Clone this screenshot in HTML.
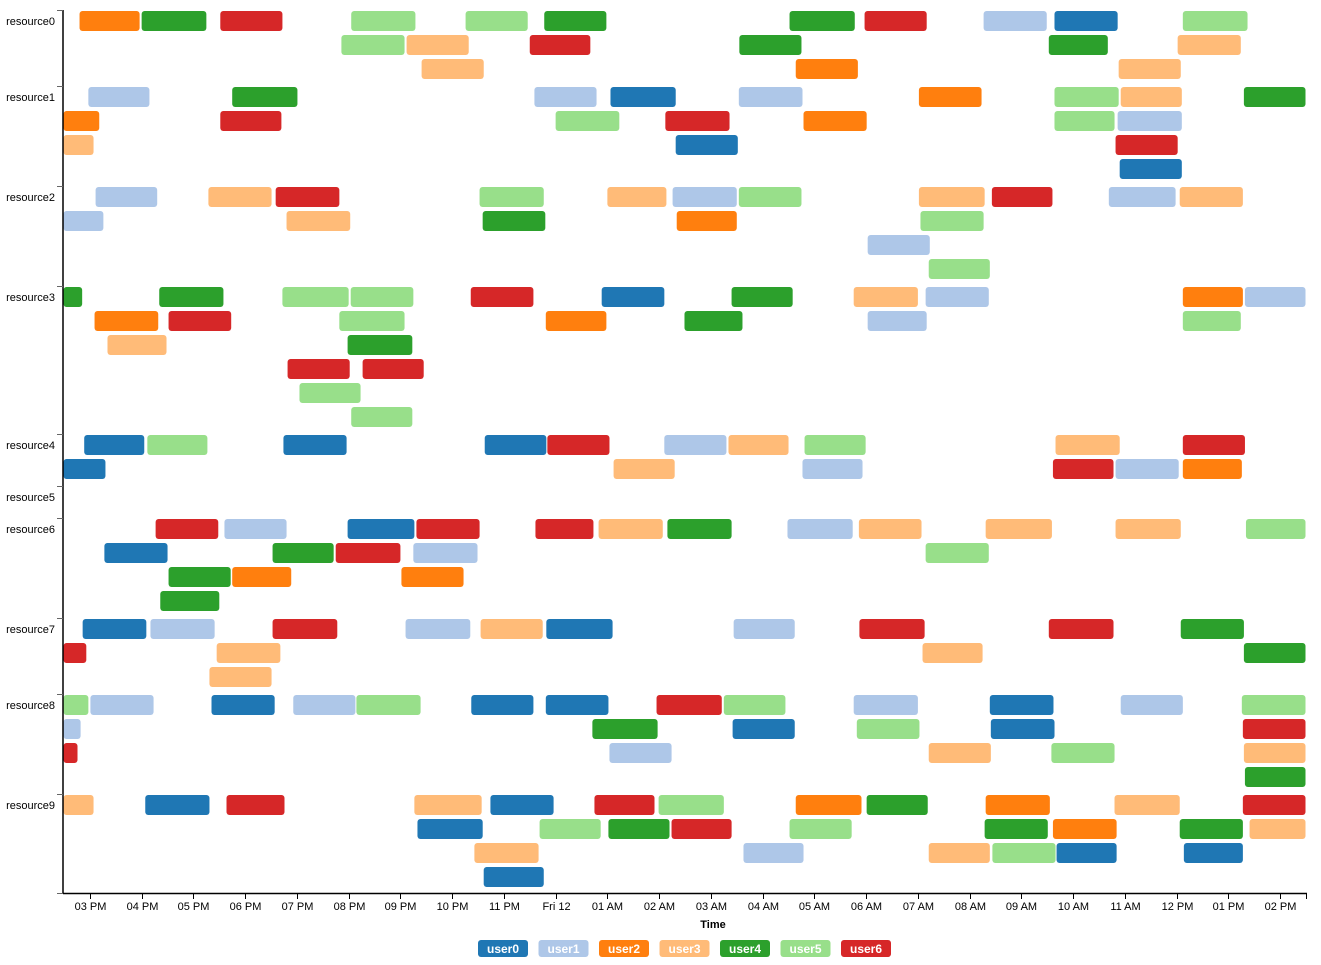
<!DOCTYPE html>
<html><head><meta charset="utf-8"><style>
html,body{margin:0;padding:0;background:#fff;}
svg{display:block;font-family:"Liberation Sans",Arial,sans-serif;}
</style></head><body>
<svg id="chart" width="1321" height="965" viewBox="0 0 1321 965" xmlns="http://www.w3.org/2000/svg"></svg>
<script>
const resources = ["resource0","resource1","resource2","resource3","resource4","resource5","resource6","resource7","resource8","resource9"];
const users = ["user0","user1","user2","user3","user4","user5","user6"];
const userColors = ["#1f77b4","#aec7e8","#ff7f0e","#ffbb78","#2ca02c","#98df8a","#d62728"];
const tickLabels = ["03 PM","04 PM","05 PM","06 PM","07 PM","08 PM","09 PM","10 PM","11 PM","Fri 12","01 AM","02 AM","03 AM","04 AM","05 AM","06 AM","07 AM","08 AM","09 AM","10 AM","11 AM","12 PM","01 PM","02 PM"];
const tickHours = [0,1,2,3,4,5,6,7,8,9,10,11,12,13,14,15,16,17,18,19,20,21,22,23];
const timeDomain = [-0.52, 23.50]; // hours since 03 PM
// tasks: [resourceIndex, lane, userIndex, startHour, endHour] (hours since 03 PM)
const tasks = [
[0,0,2,-0.21,0.97],[0,0,4,0.99,2.26],[0,0,6,2.51,3.73],[0,0,5,5.04,6.30],[0,0,5,7.25,8.47],[0,0,4,8.77,9.99],[0,0,4,13.51,14.79],[0,0,6,14.96,16.18],[0,0,1,17.26,18.50],[0,0,0,18.63,19.87],[0,0,5,21.11,22.38],
[0,1,5,4.85,6.09],[0,1,3,6.11,7.33],[0,1,6,8.49,9.68],[0,1,4,12.54,13.76],[0,1,4,18.52,19.68],[0,1,3,21.01,22.25],
[0,2,3,6.40,7.62],[0,2,2,13.63,14.85],[0,2,3,19.87,21.09],
[1,0,1,-0.04,1.16],[1,0,4,2.74,4.02],[1,0,1,8.58,9.80],[1,0,0,10.05,11.33],[1,0,1,12.53,13.78],[1,0,2,16.01,17.24],[1,0,5,18.63,19.89],[1,0,3,19.91,21.11],[1,0,4,22.29,23.50],
[1,1,2,-0.52,0.19],[1,1,6,2.51,3.71],[1,1,5,8.99,10.24],[1,1,6,11.11,12.37],[1,1,2,13.78,15.02],[1,1,5,18.63,19.81],[1,1,1,19.85,21.11],
[1,2,3,-0.52,0.08],[1,2,0,11.31,12.53],[1,2,6,19.81,21.03],
[1,3,0,19.89,21.11],
[2,0,1,0.10,1.31],[2,0,3,2.28,3.52],[2,0,6,3.58,4.83],[2,0,5,7.52,8.78],[2,0,3,9.99,11.15],[2,0,1,11.25,12.51],[2,0,5,12.53,13.76],[2,0,3,16.01,17.30],[2,0,6,17.42,18.61],[2,0,1,19.68,20.99],[2,0,3,21.05,22.29],
[2,1,1,-0.52,0.27],[2,1,3,3.79,5.04],[2,1,4,7.58,8.81],[2,1,2,11.33,12.51],[2,1,5,16.04,17.28],
[2,2,1,15.02,16.24],
[2,3,5,16.20,17.40],
[3,0,4,-0.52,-0.14],[3,0,4,1.33,2.59],[3,0,5,3.71,5.01],[3,0,5,5.03,6.26],[3,0,6,7.35,8.58],[3,0,0,9.88,11.11],[3,0,4,12.39,13.59],[3,0,3,14.75,16.01],[3,0,1,16.14,17.38],[3,0,2,21.11,22.29],[3,0,1,22.31,23.50],
[3,1,2,0.08,1.33],[3,1,6,1.51,2.74],[3,1,5,4.81,6.09],[3,1,2,8.80,9.99],[3,1,4,11.48,12.62],[3,1,1,15.02,16.18],[3,1,5,21.11,22.25],
[3,2,3,0.33,1.49],[3,2,4,4.97,6.24],
[3,3,6,3.81,5.03],[3,3,6,5.26,6.46],
[3,4,5,4.04,5.24],
[3,5,5,5.04,6.24],
[4,0,0,-0.12,1.06],[4,0,5,1.10,2.28],[4,0,0,3.73,4.97],[4,0,0,7.62,8.83],[4,0,6,8.83,10.05],[4,0,1,11.09,12.31],[4,0,3,12.33,13.51],[4,0,5,13.80,15.00],[4,0,3,18.65,19.91],[4,0,6,21.11,22.33],
[4,1,0,-0.52,0.31],[4,1,3,10.11,11.31],[4,1,1,13.76,14.94],[4,1,6,18.60,19.79],[4,1,1,19.81,21.05],[4,1,2,21.11,22.27],
[6,0,6,1.26,2.49],[6,0,1,2.59,3.81],[6,0,0,4.97,6.28],[6,0,6,6.30,7.54],[6,0,6,8.60,9.74],[6,0,3,9.82,11.08],[6,0,4,11.15,12.41],[6,0,1,13.47,14.75],[6,0,3,14.85,16.08],[6,0,3,17.30,18.60],[6,0,3,19.81,21.09],[6,0,5,22.33,23.50],
[6,1,0,0.27,1.51],[6,1,4,3.52,4.72],[6,1,6,4.74,6.01],[6,1,1,6.24,7.50],[6,1,5,16.14,17.38],
[6,2,4,1.51,2.73],[6,2,2,2.74,3.90],[6,2,2,6.01,7.23],
[6,3,4,1.35,2.51],
[7,0,0,-0.15,1.10],[7,0,1,1.16,2.42],[7,0,6,3.52,4.79],[7,0,1,6.09,7.36],[7,0,3,7.54,8.76],[7,0,0,8.81,10.11],[7,0,1,12.43,13.63],[7,0,6,14.86,16.14],[7,0,6,18.52,19.79],[7,0,4,21.07,22.31],
[7,1,6,-0.52,-0.06],[7,1,3,2.44,3.69],[7,1,3,16.08,17.26],[7,1,4,22.29,23.50],
[7,2,3,2.30,3.52],
[8,0,5,-0.52,-0.02],[8,0,1,0.00,1.24],[8,0,0,2.34,3.58],[8,0,1,3.92,5.14],[8,0,5,5.14,6.40],[8,0,0,7.36,8.58],[8,0,0,8.80,10.03],[8,0,6,10.94,12.22],[8,0,5,12.24,13.45],[8,0,1,14.75,16.01],[8,0,0,17.38,18.63],[8,0,1,19.91,21.13],[8,0,5,22.25,23.50],
[8,1,1,-0.52,-0.17],[8,1,4,9.70,10.98],[8,1,0,12.41,13.63],[8,1,5,14.81,16.04],[8,1,0,17.40,18.65],[8,1,6,22.27,23.50],
[8,2,6,-0.52,-0.23],[8,2,1,10.03,11.25],[8,2,3,16.20,17.42],[8,2,5,18.57,19.81],[8,2,3,22.29,23.50],
[8,3,4,22.31,23.50],
[9,0,3,-0.52,0.08],[9,0,0,1.06,2.32],[9,0,6,2.63,3.77],[9,0,3,6.26,7.58],[9,0,0,7.73,8.97],[9,0,6,9.74,10.92],[9,0,5,10.98,12.26],[9,0,2,13.63,14.92],[9,0,4,15.00,16.20],[9,0,2,17.30,18.56],[9,0,3,19.79,21.07],[9,0,6,22.27,23.50],
[9,1,0,6.32,7.60],[9,1,5,8.68,9.88],[9,1,4,10.01,11.21],[9,1,6,11.23,12.41],[9,1,5,13.51,14.73],[9,1,4,17.28,18.52],[9,1,2,18.60,19.85],[9,1,4,21.05,22.29],[9,1,3,22.40,23.50],
[9,2,3,7.42,8.68],[9,2,1,12.62,13.80],[9,2,3,16.20,17.40],[9,2,5,17.43,18.67],[9,2,0,18.67,19.85],[9,2,0,21.13,22.29],
[9,3,0,7.60,8.78]
];

const NS = "http://www.w3.org/2000/svg";
const svg = document.getElementById("chart");
const X0 = 63, X1 = 1306, Y0 = 10, LANE = 24, BAR_H = 20;
function xScale(h){ return X0 + (h - timeDomain[0]) / (timeDomain[1] - timeDomain[0]) * (X1 - X0); }
function mk(tag, attrs, parent){
  const e = document.createElementNS(NS, tag);
  for (const k in attrs) e.setAttribute(k, attrs[k]);
  (parent || svg).appendChild(e);
  return e;
}
// band layout from data
const laneCounts = resources.map((r, i) => {
  let m = 0;
  tasks.forEach(t => { if (t[0] === i) m = Math.max(m, t[1] + 1); });
  return m;
});
const bandTop = [];
let acc = Y0;
laneCounts.forEach((n, i) => { bandTop.push(acc); acc += Math.max(n * LANE + 4, 32); });
const Y1 = acc - 1;

// bars
const barsG = mk("g", {});


tasks.forEach(t => {
  const x1 = xScale(t[3]), x2 = xScale(t[4]);
  const r = mk("rect", {x: x1 + 0.5, y: bandTop[t[0]] + 1 + t[1] * LANE, width: Math.max(1, x2 - x1 - 1), height: BAR_H, rx: 3, ry: 3, fill: userColors[t[2]]}, barsG);
  
  
});

// y axis
const yAxis = mk("g", {});


mk("line", {x1: X0, x2: X0, y1: Y0, y2: Y1 + 1, stroke: "#000", "stroke-width": 1.5}, yAxis);
resources.forEach((r, i) => {
  mk("line", {x1: X0 - 6, x2: X0, y1: bandTop[i] + 0.5, y2: bandTop[i] + 0.5, stroke: "#666", "stroke-width": 1}, yAxis);
  const tx = mk("text", {x: 55, y: bandTop[i] + 15, "text-anchor": "end", "font-size": 11, fill: "#000"}, yAxis);
  tx.textContent = r;
  
  
});
mk("line", {x1: X0 - 6, x2: X0, y1: Y1 + 0.5, y2: Y1 + 0.5, stroke: "#666"}, yAxis);

// x axis
const xAxis = mk("g", {});


mk("line", {x1: X0, x2: X1 + 1, y1: Y1 + 0.5, y2: Y1 + 0.5, stroke: "#000", "stroke-width": 1.5}, xAxis);
mk("line", {x1: X1 + 0.5, x2: X1 + 0.5, y1: Y1, y2: Y1 + 6, stroke: "#000"}, xAxis);
tickHours.forEach((h, i) => {
  const x = Math.round(xScale(h)) + 0.5;
  mk("line", {x1: x, x2: x, y1: Y1, y2: Y1 + 6, stroke: "#000"}, xAxis);
  const tx = mk("text", {x: x, y: Y1 + 17, "text-anchor": "middle", "font-size": 11, fill: "#000"}, xAxis);
  tx.textContent = tickLabels[i];
  
  
});
const xt = mk("text", {x: 713, y: 928, "text-anchor": "middle", "font-size": 11, "font-weight": "bold", fill: "#000"});
xt.textContent = "Time";



// legend
const legend = mk("g", {});


users.forEach((u, i) => {
  const cx = 503 + i * 60.5;
  const g = mk("g", {}, legend);
  
  
  mk("rect", {x: cx - 25, y: 940, width: 50, height: 17, rx: 3, ry: 3, fill: userColors[i]}, g);
  const t = mk("text", {x: cx, y: 953, "text-anchor": "middle", "font-size": 12, "font-weight": "bold", fill: "#fff"}, g);
  t.textContent = u;
});
</script>
</body></html>
